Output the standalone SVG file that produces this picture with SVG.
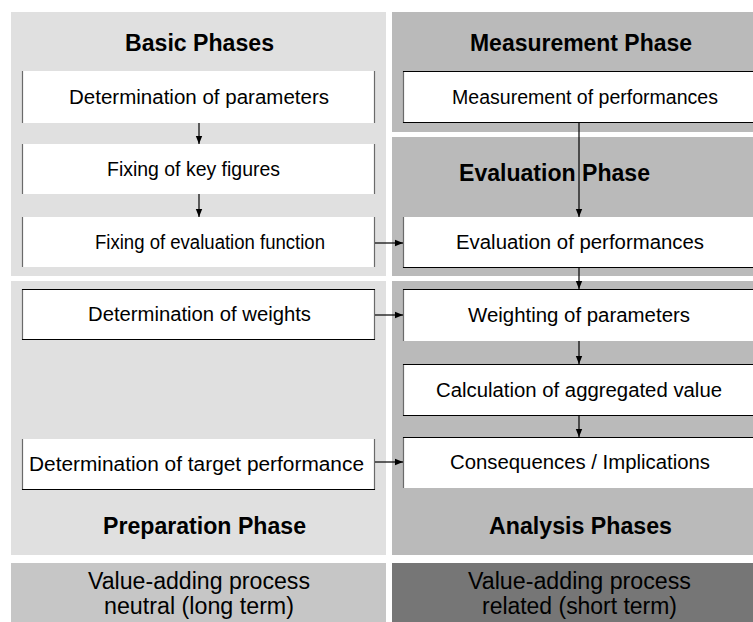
<svg xmlns="http://www.w3.org/2000/svg" width="753" height="622" viewBox="0 0 753 622">
<style>
text{font-family:"Liberation Sans",Arial,sans-serif;fill:#000}
.h{font-size:23px;font-weight:bold}
.t{font-size:20px}
.b{font-size:23px}
.box{fill:#fff}
.side{stroke:#6a6a6a;stroke-width:1.2;fill:none}
.edge{stroke:#000;stroke-width:1.2;fill:none}
.con{stroke:#000;stroke-width:1.2;fill:none;marker-end:url(#ah)}
</style>
<defs>
<marker id="ah" markerUnits="userSpaceOnUse" markerWidth="8" markerHeight="8" viewBox="0 0 8 8" refX="8" refY="4" orient="auto">
<path d="M0,0.8 L8,4 L0,7.2 Z" fill="#000"/>
</marker>
</defs>
<rect width="753" height="622" fill="#fff"/>
<g id="panels">
<rect id="p-basic" x="11" y="12" width="375" height="264" fill="#e0e0e0"/>
<rect id="p-prep" x="11" y="281" width="375" height="274" fill="#e0e0e0"/>
<rect id="p-meas" x="392" y="12" width="361" height="120" fill="#bababa"/>
<rect id="p-eval" x="392" y="137" width="361" height="139" fill="#bababa"/>
<rect id="p-anal" x="392" y="281" width="361" height="274" fill="#bababa"/>
<rect id="p-neutral" x="11" y="563" width="375" height="59" fill="#c6c6c6"/>
<rect id="p-related" x="392" y="563" width="361" height="59" fill="#767676"/>
</g>
<g id="headings">
<text class="h" x="125" y="51" textLength="149" lengthAdjust="spacingAndGlyphs">Basic Phases</text>
<text class="h" x="470" y="51" textLength="222" lengthAdjust="spacingAndGlyphs">Measurement Phase</text>
<text class="h" x="459" y="181" textLength="191" lengthAdjust="spacingAndGlyphs">Evaluation Phase</text>
<text class="h" x="103" y="534" textLength="203" lengthAdjust="spacingAndGlyphs">Preparation Phase</text>
<text class="h" x="489" y="534" textLength="183" lengthAdjust="spacingAndGlyphs">Analysis Phases</text>
</g>
<g id="n-det-params">
<rect class="box" x="22" y="71" width="353" height="52"/>
<path class="side" d="M22.5,71V123M374.5,71V123"/>
<text class="t" x="69" y="104" textLength="260" lengthAdjust="spacingAndGlyphs">Determination of parameters</text>
</g>
<g id="n-key-figures">
<rect class="box" x="22" y="144" width="353" height="50"/>
<path class="side" d="M22.5,144V194M374.5,144V194"/>
<text class="t" x="107" y="176" textLength="173" lengthAdjust="spacingAndGlyphs">Fixing of key figures</text>
</g>
<g id="n-eval-function">
<rect class="box" x="22" y="217" width="353" height="50"/>
<path class="side" d="M22.5,217V267M374.5,217V267"/>
<text class="t" x="95" y="249" textLength="230" lengthAdjust="spacingAndGlyphs">Fixing of evaluation function</text>
</g>
<g id="n-weights">
<rect class="box" x="22" y="289" width="353" height="51"/>
<path class="side" d="M22.5,289V340M374.5,289V340"/>
<path class="edge" d="M22,289.5H375M22,339.5H375"/>
<text class="t" x="88" y="321" textLength="223" lengthAdjust="spacingAndGlyphs">Determination of weights</text>
</g>
<g id="n-target">
<rect class="box" x="22" y="439" width="353" height="51"/>
<path class="side" d="M22.5,439V490M374.5,439V490"/>
<path class="edge" d="M22,489.5H375"/>
<text class="t" x="29" y="471" textLength="335" lengthAdjust="spacingAndGlyphs">Determination of target performance</text>
</g>
<g id="n-measurement">
<rect class="box" x="403" y="71" width="352" height="52"/>
<path class="side" d="M403.5,71V123"/>
<path class="edge" d="M403,71.5H753M403,122.5H753"/>
<text class="t" x="452" y="104" textLength="266" lengthAdjust="spacingAndGlyphs">Measurement of performances</text>
</g>
<g id="n-evaluation">
<rect class="box" x="403" y="217" width="352" height="51"/>
<path class="side" d="M403.5,217V268"/>
<path class="edge" d="M403,267.5H753"/>
<text class="t" x="456" y="249" textLength="248" lengthAdjust="spacingAndGlyphs">Evaluation of performances</text>
</g>
<g id="n-weighting">
<rect class="box" x="403" y="289" width="352" height="52"/>
<path class="side" d="M403.5,289V341"/>
<path class="edge" d="M403,289.5H753"/>
<text class="t" x="468" y="322" textLength="222" lengthAdjust="spacingAndGlyphs">Weighting of parameters</text>
</g>
<g id="n-calculation">
<rect class="box" x="403" y="364" width="352" height="52"/>
<path class="side" d="M403.5,364V416"/>
<path class="edge" d="M403,364.5H753M403,415.5H753"/>
<text class="t" x="436" y="397" textLength="286" lengthAdjust="spacingAndGlyphs">Calculation of aggregated value</text>
</g>
<g id="n-consequences">
<rect class="box" x="403" y="437" width="352" height="51"/>
<path class="side" d="M403.5,437V488"/>
<path class="edge" d="M403,437.5H753"/>
<text class="t" x="450" y="469" textLength="260" lengthAdjust="spacingAndGlyphs">Consequences / Implications</text>
</g>
<g id="n-neutral">
<text class="b" x="88" y="589" textLength="222" lengthAdjust="spacingAndGlyphs">Value-adding process</text>
<text class="b" x="104" y="614" textLength="190" lengthAdjust="spacingAndGlyphs">neutral (long term)</text>
</g>
<g id="n-related">
<text class="b" x="468" y="589" textLength="223" lengthAdjust="spacingAndGlyphs">Value-adding process</text>
<text class="b" x="482" y="614" textLength="195" lengthAdjust="spacingAndGlyphs">related (short term)</text>
</g>
<g id="connectors">
<path class="con" d="M199,123V144"/>
<path class="con" d="M199,194V217"/>
<path class="con" d="M579,123V217"/>
<path class="con" d="M579,268V289"/>
<path class="con" d="M579,341V364"/>
<path class="con" d="M579,416V437"/>
<path class="con" d="M375,243H403"/>
<path class="con" d="M375,315H403"/>
<path class="con" d="M375,462H403"/>
</g>
</svg>
